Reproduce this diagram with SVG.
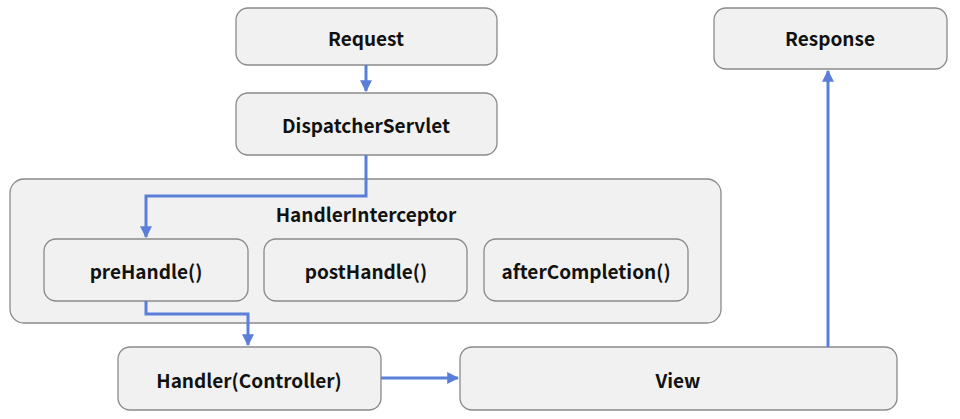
<svg xmlns="http://www.w3.org/2000/svg" width="960" height="419" viewBox="0 0 960 419">
<style>
.n{fill:#f1f1f1;stroke:#8a8a8a;stroke-width:1.3}
.t{font-family:"Noto Sans CJK KR","Noto Sans",sans-serif;font-weight:bold;font-size:19px;fill:#111;text-anchor:middle;dominant-baseline:central}
.c{fill:none;stroke:#5b7fd9;stroke-width:3;marker-end:url(#a)}
</style>
<defs><marker id="a" viewBox="0 0 10 10" refX="9" refY="5" markerWidth="4" markerHeight="4" orient="auto"><path d="M0,0L10,5L0,10z" fill="#5b7fd9"/></marker></defs>
<rect width="960" height="419" fill="#fff"/>
<g id="request"><rect class="n" x="236" y="8" width="261" height="57" rx="12"/><text class="t" x="366" y="37">Request</text></g>
<g id="response"><rect class="n" x="714" y="8" width="233" height="61" rx="12"/><text class="t" x="830" y="37">Response</text></g>
<g id="dispatcher"><rect class="n" x="236" y="93" width="261" height="62" rx="12"/><text class="t" x="366" y="124">DispatcherServlet</text></g>
<g id="interceptor"><rect class="n" x="10" y="179" width="711" height="144" rx="14"/><text class="t" x="366" y="213">HandlerInterceptor</text></g>
<g id="prehandle"><rect class="n" x="44" y="239" width="204" height="62" rx="12"/><text class="t" x="146" y="270">preHandle()</text></g>
<g id="posthandle"><rect class="n" x="264" y="239" width="203" height="62" rx="12"/><text class="t" x="366" y="270">postHandle()</text></g>
<g id="aftercompletion"><rect class="n" x="484" y="239" width="204" height="62" rx="12"/><text class="t" x="586" y="270">afterCompletion()</text></g>
<g id="handler"><rect class="n" x="118" y="347" width="263" height="63" rx="12"/><text class="t" x="249" y="379">Handler(Controller)</text></g>
<g id="view"><rect class="n" x="460" y="347" width="437" height="63" rx="12"/><text class="t" x="678" y="379">View</text></g>
<g id="connectors">
<path class="c" d="M366,65V91"/>
<path class="c" d="M366,155V196H146V237"/>
<path class="c" d="M146,301V314H248V345"/>
<path class="c" d="M381,378H458"/>
<path class="c" d="M828,347V71"/>
</g>
</svg>
